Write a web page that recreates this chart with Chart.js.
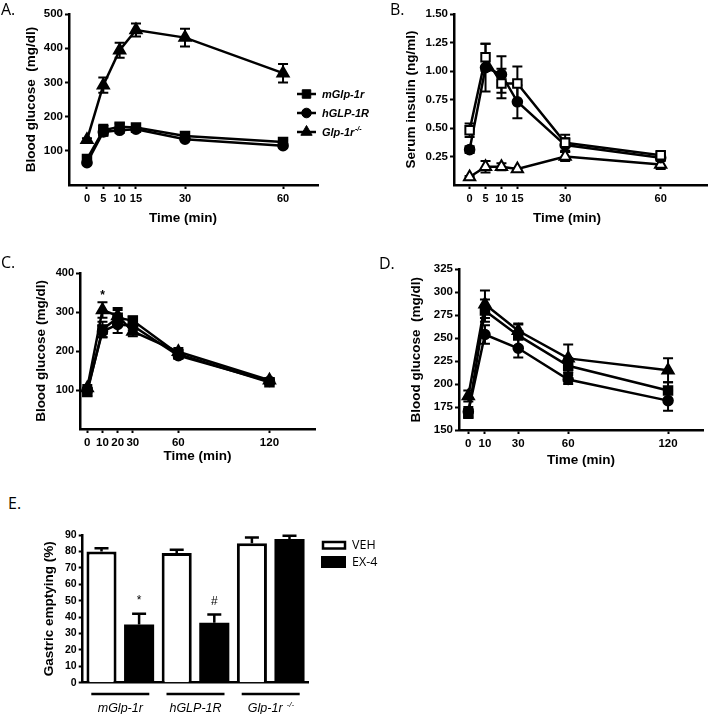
<!DOCTYPE html>
<html>
<head>
<meta charset="utf-8">
<title>GLP-1R figure</title>
<script src="https://cdn.jsdelivr.net/npm/chart.js@4.4.1/dist/chart.umd.min.js"></script>
<style>
  html, body { margin: 0; padding: 0; background: #fff; }
  #fig { position: relative; width: 716px; height: 714px; overflow: hidden; background: #fff; }
  #fig canvas { position: absolute; }
  .tag { position: absolute; font-family: 'Open Sans', sans-serif; font-size: 16px; line-height: 16px; color: #000; }
</style>
</head>
<body>
<div id="fig">
  <canvas id="chartA" width="380" height="240" style="left:0;top:0"></canvas>
  <canvas id="chartB" width="356" height="240" style="left:360px;top:0"></canvas>
  <canvas id="chartC" width="360" height="225" style="left:0;top:250px"></canvas>
  <canvas id="chartD" width="356" height="225" style="left:360px;top:250px"></canvas>
  <canvas id="chartE" width="420" height="194" style="left:0;top:520px"></canvas>
  <div class="tag" style="left:1px;top:1px">A.</div>
  <div class="tag" style="left:390px;top:1px">B.</div>
  <div class="tag" style="left:1px;top:254px">C.</div>
  <div class="tag" style="left:379px;top:255px">D.</div>
  <div class="tag" style="left:8px;top:495px">E.</div>
</div>
<script>
// ---- data ----
const seriesNames = ['mGlp-1r', 'hGLP-1R', 'Glp-1r-/-'];

// A. blood glucose (mg/dl)
const timeA = [0, 5, 10, 15, 30, 60];
const glucoseA_m = [76, 160, 170, 168, 143, 126];
const glucoseA_mErr = [8, 16, 10, 10, 8, 6];
const glucoseA_h = [65, 155, 160, 163, 134, 115];
const glucoseA_hErr = [5, 10, 8, 8, 6, 6];
const glucoseA_ko = [132, 292, 394, 453, 431, 327];
const glucoseA_koErr = [5, 22, 22, 19, 26, 27];
const xTicksA = [0, 5, 10, 15, 30, 60];
const yTicksA = [100, 200, 300, 400, 500];

// B. serum insulin (ng/ml)
const timeB = [0, 5, 10, 15, 30, 60];
const insulinB_m = [0.48, 1.12, 0.89, 0.89, 0.37, 0.26];
const insulinB_mErr = [0.06, 0.12, 0.13, 0.15, 0.07, 0.03];
const insulinB_h = [0.31, 1.03, 0.97, 0.73, 0.35, 0.24];
const insulinB_hErr = [0.03, 0.21, 0.16, 0.145, 0.06, 0.03];
const insulinB_ko = [0.07, 0.16, 0.16, 0.14, 0.25, 0.18];
const insulinB_koErr = [0.01, 0.05, 0.03, 0.01, 0.04, 0.04];
const yTicksB = [0.25, 0.5, 0.75, 1.0, 1.25, 1.5];

// C. blood glucose (mg/dl)
const timeC = [0, 10, 20, 30, 60, 120];
const glucoseC_m = [95, 255, 285, 278, 192, 120];
const glucoseC_mErr = [10, 20, 20, 10, 10, 5];
const glucoseC_h = [100, 250, 268, 265, 188, 122];
const glucoseC_hErr = [8, 15, 22, 12, 8, 5];
const glucoseC_ko = [105, 305, 290, 250, 198, 125];
const glucoseC_koErr = [8, 20, 20, 12, 10, 5];
const signifC = ['', '*', '', '', '', ''];
const yTicksC = [100, 200, 300, 400];

// D. blood glucose (mg/dl)
const timeD = [0, 10, 30, 60, 120];
const glucoseD_m = [168, 280, 253, 220, 193];
const glucoseD_mErr = [5, 12, 12, 8, 9];
const glucoseD_h = [170, 254, 239, 205, 182];
const glucoseD_hErr = [5, 10, 10, 5, 11];
const glucoseD_ko = [187, 287, 258, 228, 215];
const glucoseD_koErr = [6, 15, 8, 15, 13];
const yTicksD = [150, 175, 200, 225, 250, 275, 300, 325];

// E. gastric emptying (%)
const groupsE = ['mGlp-1r', 'hGLP-1R', 'Glp-1r -/-'];
const emptyingVeh = [80, 79, 85];
const emptyingVehErr = [2, 2, 3.5];
const emptyingEx4 = [35.5, 36.5, 87.5];
const emptyingEx4Err = [6.5, 5, 2];
const signifE = ['*', '#', ''];
const yTicksE = [0, 10, 20, 30, 40, 50, 60, 70, 80, 90];

// ---- helpers ----
const FONT = "'Liberation Sans', Arial, sans-serif";

// text with a trailing "-/-" drawn as superscript
function drawLabel(ctx, label, x, y, font, supFont, align) {
  let main = label, sup = '';
  if (label.endsWith('-/-')) { main = label.slice(0, -3); sup = '-/-'; }
  ctx.font = font;
  const w1 = ctx.measureText(main).width;
  ctx.font = supFont;
  const w2 = sup ? ctx.measureText(sup).width : 0;
  const x0 = align === 'center' ? x - (w1 + w2) / 2 : x;
  ctx.textAlign = 'left';
  ctx.textBaseline = 'alphabetic';
  ctx.font = font;
  ctx.fillText(main, x0, y);
  if (sup) {
    ctx.font = supFont;
    ctx.fillText(sup, x0 + w1 + 0.5, y - 5);
  }
}

function drawErrors(chart, opts) {
  const ctx = chart.ctx;
  const y = chart.scales.y;
  chart.data.datasets.forEach((ds, i) => {
    if (!ds.err) return;
    const meta = chart.getDatasetMeta(i);
    ctx.save();
    ctx.strokeStyle = '#000';
    ctx.fillStyle = '#000';
    ctx.lineWidth = opts.lineWidth || 2;
    meta.data.forEach((pt, j) => {
      const raw = ds.data[j];
      const v = typeof raw === 'number' ? raw : raw.y;
      const e = ds.err[j];
      const top = y.getPixelForValue(v + e);
      const bottom = y.getPixelForValue(opts.upOnly ? v : v - e);
      const w = opts.cap || 4;
      ctx.beginPath();
      ctx.moveTo(pt.x, top); ctx.lineTo(pt.x, bottom);
      ctx.moveTo(pt.x - w, top); ctx.lineTo(pt.x + w, top);
      if (!opts.upOnly) { ctx.moveTo(pt.x - w, bottom); ctx.lineTo(pt.x + w, bottom); }
      ctx.stroke();
      if (ds.marks && ds.marks[j]) {
        ctx.font = opts.markFont;
        ctx.textAlign = 'center';
        ctx.textBaseline = 'alphabetic';
        ctx.fillText(ds.marks[j], pt.x, top - opts.markGap);
      }
    });
    ctx.restore();
  });
}

const errorBars = {
  id: 'errorBars',
  beforeDatasetsDraw(chart, args, opts) { if (!opts.onTop) drawErrors(chart, opts); },
  afterDatasetsDraw(chart, args, opts) { if (opts.onTop) drawErrors(chart, opts); }
};

// x-axis title placed off-centre, as in panels A and B
const xTitle = {
  id: 'xTitle',
  afterDraw(chart, args, opts) {
    if (!opts.text) return;
    const ctx = chart.ctx;
    ctx.save();
    ctx.font = `bold ${opts.size}px ${FONT}`;
    ctx.fillStyle = '#000';
    ctx.textAlign = 'center';
    ctx.textBaseline = 'middle';
    ctx.fillText(opts.text, opts.x, opts.y);
    ctx.restore();
  }
};

const legendA = {
  id: 'legendA',
  afterDraw(chart) {
    const ctx = chart.ctx;
    chart.data.datasets.forEach((ds, i) => {
      const y = 94 + i * 19;
      ctx.save();
      ctx.strokeStyle = '#000';
      ctx.fillStyle = '#000';
      ctx.lineWidth = 2.5;
      ctx.beginPath(); ctx.moveTo(297, y); ctx.lineTo(316, y); ctx.stroke();
      ctx.lineWidth = 1;
      Chart.helpers.drawPoint(ctx, { pointStyle: ds.pointStyle, radius: ds.pointRadius, borderWidth: 1, rotation: 0 }, 306.5, y);
      drawLabel(ctx, ds.label, 322, y + 4, `italic bold 11px ${FONT}`, `italic bold 7px ${FONT}`, 'left');
      ctx.restore();
    });
  }
};

const legendE = {
  id: 'legendE',
  afterDraw(chart) {
    const ctx = chart.ctx;
    const [veh, ex4] = chart.data.datasets;
    ctx.save();
    ctx.lineWidth = 2.5;
    ctx.strokeStyle = veh.borderColor;
    ctx.fillStyle = veh.backgroundColor;
    ctx.fillRect(323, 22, 22, 6.5);
    ctx.strokeRect(323, 22, 22, 6.5);
    ctx.fillStyle = ex4.backgroundColor;
    ctx.fillRect(321, 36, 25, 12);
    ctx.fillStyle = '#000';
    ctx.font = "12.5px 'Open Sans', sans-serif";
    ctx.textAlign = 'left';
    ctx.textBaseline = 'middle';
    ctx.fillText(veh.label, 352, 25);
    ctx.fillText(ex4.label, 352, 42);
    ctx.restore();
  }
};

const groupLabelsE = {
  id: 'groupLabelsE',
  afterDraw(chart) {
    const { ctx, scales: { x } } = chart;
    ctx.save();
    ctx.strokeStyle = '#000';
    ctx.fillStyle = '#000';
    ctx.lineWidth = 2.5;
    chart.data.labels.forEach((lab, i) => {
      const cx = x.getPixelForValue(i);
      ctx.beginPath(); ctx.moveTo(cx - 29, 174); ctx.lineTo(cx + 29, 174); ctx.stroke();
      drawLabel(ctx, lab, cx, 192, `italic 12.5px ${FONT}`, `italic 8px ${FONT}`, 'center');
    });
    ctx.restore();
  }
};

function gridOpts() {
  return { drawOnChartArea: false, drawTicks: true, tickLength: 4, tickWidth: 2, tickColor: '#000' };
}

function axisX(min, max, ticks, height, fontSize, title) {
  return {
    type: 'linear', position: 'bottom', min, max,
    afterBuildTicks: s => { s.ticks = ticks.map(v => ({ value: v })); },
    afterFit: s => { s.height = height; },
    grid: gridOpts(),
    border: { color: '#000', width: 2.5 },
    ticks: { color: '#000', autoSkip: false, maxRotation: 0, padding: 3,
             font: { family: FONT, weight: 'bold', size: fontSize } },
    title: { display: !!title, text: title || '', color: '#000', padding: 0,
             font: { family: FONT, weight: 'bold', size: 13.5 } }
  };
}

function axisY(min, max, ticks, width, fontSize, title, fmt) {
  return {
    type: 'linear', position: 'left', min, max,
    afterBuildTicks: s => { s.ticks = ticks.map(v => ({ value: v })); },
    afterFit: s => { s.width = width; },
    grid: gridOpts(),
    border: { color: '#000', width: 2.5 },
    ticks: { color: '#000', autoSkip: false, padding: 2,
             font: { family: FONT, weight: 'bold', size: fontSize },
             callback: fmt || (v => String(v)) },
    title: { display: true, text: title, color: '#000', padding: 0,
             font: { family: FONT, weight: 'bold', size: 13.5 } }
  };
}

function lineSets(times, values, errs, openMarks, marks) {
  const styles = ['rect', 'circle', 'triangle'];
  const radii = [6, 4.8, 6.5];
  return values.map((vals, i) => ({
    label: seriesNames[i],
    data: vals.map((v, j) => ({ x: times[j], y: v })),
    err: errs[i],
    marks: marks ? marks[i] : null,
    borderColor: '#000',
    borderWidth: 2.5,
    pointStyle: styles[i],
    pointRadius: radii[i],
    pointHoverRadius: radii[i],
    pointBackgroundColor: openMarks[i] ? '#fff' : '#000',
    pointBorderColor: '#000',
    pointBorderWidth: 2,
    tension: 0,
    fill: false
  }));
}

function lineChart(id, cfg) {
  return new Chart(document.getElementById(id), {
    type: 'line',
    data: { datasets: cfg.datasets },
    options: {
      responsive: false,
      animation: false,
      layout: { padding: cfg.padding },
      scales: { x: cfg.x, y: cfg.y },
      plugins: {
        legend: { display: false },
        tooltip: { enabled: false },
        errorBars: { cap: 5, lineWidth: 2, markFont: `bold 12px ${FONT}`, markGap: 3 },
        xTitle: cfg.xTitle || {}
      }
    },
    plugins: [errorBars, xTitle].concat(cfg.extra || [])
  });
}

// ---- A ----
lineChart('chartA', {
  datasets: lineSets(timeA, [glucoseA_m, glucoseA_h, glucoseA_ko],
                     [glucoseA_mErr, glucoseA_hErr, glucoseA_koErr], [false, false, false]),
  padding: { left: 23.6, top: 14, right: 62, bottom: 25 },
  x: axisX(-5.5, 70.7, xTicksA, 30, 11),
  y: axisY(0, 500, yTicksA, 45.4, 11.5, 'Blood glucose  (mg/dl)'),
  xTitle: { text: 'Time (min)', x: 183, y: 218, size: 13.5 },
  extra: [legendA]
});

// ---- B ----
lineChart('chartB', {
  datasets: lineSets(timeB, [insulinB_m, insulinB_h, insulinB_ko],
                     [insulinB_mErr, insulinB_hErr, insulinB_koErr], [true, false, true]),
  padding: { left: 43.6, top: 14, right: 2, bottom: 25 },
  x: axisX(-4.9, 74.7, xTicksA, 30, 11),
  y: axisY(0, 1.5, yTicksB, 50.4, 11.5, 'Serum insulin (ng/ml)', v => v.toFixed(2)),
  xTitle: { text: 'Time (min)', x: 207, y: 218, size: 13.5 }
});

// ---- C ----
lineChart('chartC', {
  datasets: lineSets(timeC, [glucoseC_m, glucoseC_h, glucoseC_ko],
                     [glucoseC_mErr, glucoseC_hErr, glucoseC_koErr], [false, false, false],
                     [null, null, signifC]),
  padding: { left: 33.6, top: 23, right: 45, bottom: 10.6 },
  x: axisX(-4.8, 150, timeC, 35.4, 11.5, 'Time (min)'),
  y: axisY(0, 400, yTicksC, 46.4, 11, 'Blood glucose (mg/dl)')
});

// ---- D ----
lineChart('chartD', {
  datasets: lineSets(timeD, [glucoseD_m, glucoseD_h, glucoseD_ko],
                     [glucoseD_mErr, glucoseD_hErr, glucoseD_koErr], [false, false, false]),
  padding: { left: 48.6, top: 19.3, right: 13, bottom: 6.6 },
  x: axisX(-5.6, 141, timeD, 38.4, 11.5, 'Time (min)'),
  y: axisY(150, 325, yTicksD, 50.4, 11.5, 'Blood glucose  (mg/dl)')
});

// ---- E ----
new Chart(document.getElementById('chartE'), {
  type: 'bar',
  data: {
    labels: groupsE,
    datasets: [
      { label: 'VEH', data: emptyingVeh, err: emptyingVehErr,
        backgroundColor: '#fff', borderColor: '#000', borderWidth: 3 },
      { label: 'EX-4', data: emptyingEx4, err: emptyingEx4Err, marks: signifE,
        backgroundColor: '#000', borderColor: '#000', borderWidth: 0 }
    ]
  },
  options: {
    responsive: false,
    animation: false,
    layout: { padding: { left: 41.6, top: 15, right: 111.7, bottom: 0 } },
    datasets: { bar: { categoryPercentage: 1, barPercentage: 0.8 } },
    scales: {
      x: {
        type: 'category',
        afterFit: s => { s.height = 31.3; },
        grid: { display: false },
        border: { color: '#000', width: 2.5 },
        ticks: { display: false }
      },
      y: axisY(0, 90, yTicksE, 41.1, 10.5, 'Gastric emptying (%)')
    },
    plugins: {
      legend: { display: false },
      tooltip: { enabled: false },
      errorBars: { onTop: true, upOnly: true, cap: 7, lineWidth: 2.5,
                   markFont: `12px ${FONT}`, markGap: 10 }
    }
  },
  plugins: [errorBars, groupLabelsE, legendE]
});
</script>
</body>
</html>
